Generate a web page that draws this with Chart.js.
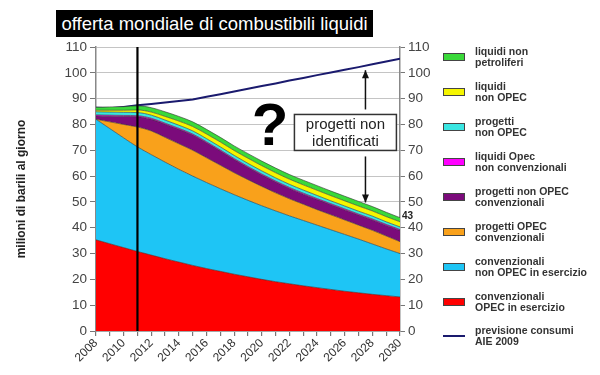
<!DOCTYPE html>
<html lang="it">
<head>
  <meta charset="UTF-8" />
  <title>offerta mondiale di combustibili liquidi</title>
  <script src="https://cdn.jsdelivr.net/npm/chart.js"></script>
  <style>
    * { margin: 0; padding: 0; box-sizing: border-box; }
    body { width: 600px; height: 375px; background: #fff; font-family: 'Liberation Sans', Arial, sans-serif; overflow: hidden; }
    .wrap { position: relative; width: 600px; height: 375px; }
    canvas { position: absolute; left: 0; top: 0; }
    .title {
      position: absolute; left: 56px; top: 10px; width: 317px; height: 27px;
      background: #000; color: #fff; font-size: 18.5px; line-height: 27px; text-align: center;
    }
    .legend { position: absolute; left: 443px; top: 0; }
    .item { position: absolute; left: 0; width: 160px; height: 22px; }
    .sw { position: absolute; left: 0; top: 7px; width: 22px; height: 8px; border: 1px solid #444; }
    .ln { position: absolute; left: 0; top: 10px; width: 22px; height: 2px; background: #1a1a6e; }
    .txt { position: absolute; left: 32px; top: 0; font-size: 10.5px; line-height: 10.5px; font-weight: bold; color: #333; white-space: nowrap; }
  </style>
</head>
<body>
<div class="wrap">
  <canvas id="chart" width="600" height="375"></canvas>
  <div class="title">offerta mondiale di combustibili liquidi</div>
  <div class="legend" id="legend"></div>
</div>

<script>
  const years = [2008, 2009, 2010, 2011, 2012, 2013, 2014, 2015, 2016, 2017, 2018, 2019,
                 2020, 2021, 2022, 2023, 2024, 2025, 2026, 2027, 2028, 2029, 2030];

  // milioni di barili al giorno, dal basso verso l'alto
  const opecEsercizio = [35.3, 33.8, 32.3, 30.8, 29.4, 28.0, 26.7, 25.4, 24.2, 23.1, 22.0, 21.0,
                         20.0, 19.1, 18.3, 17.5, 16.8, 16.1, 15.4, 14.8, 14.2, 13.7, 13.2];
  const nonOpecEsercizio = [46.7, 44.6, 42.5, 40.5, 38.9, 37.4, 35.9, 34.6, 33.3, 32.0, 30.8, 29.6,
                            28.5, 27.4, 26.3, 25.3, 24.2, 23.1, 22.0, 20.8, 19.5, 18.1, 16.8];
  const progettiOpec = [0, 2.6, 5.2, 7.7, 9.2, 9.6, 9.9, 10.0, 9.6, 9.1, 8.5, 8.0,
                        7.5, 7.0, 6.6, 6.3, 6.0, 5.8, 5.6, 5.4, 5.3, 5.0, 4.6];
  const progettiNonOpecConv = [1.3, 2.2, 3.1, 4.0, 4.5, 5.1, 5.6, 5.9, 5.8, 5.5, 5.1, 4.7,
                               4.4, 4.2, 4.0, 3.9, 3.9, 3.9, 3.9, 3.9, 4.0, 4.1, 4.3];
  const opecNonConv = [0.4, 0.4, 0.4, 0.4, 0.4, 0.4, 0.4, 0.4, 0.4, 0.4, 0.4, 0.4,
                       0.4, 0.4, 0.4, 0.4, 0.4, 0.4, 0.4, 0.4, 0.4, 0.4, 0.4];
  const progettiNonOpec = [1.2, 1.2, 1.2, 1.2, 1.2, 1.2, 1.2, 1.2, 1.2, 1.2, 1.2, 1.2,
                           1.2, 1.2, 1.2, 1.2, 1.2, 1.1, 1.1, 1.1, 1.1, 1.0, 1.0];
  const liquidiNonOpec = [0.6, 0.7, 0.8, 1.0, 1.2, 1.4, 1.6, 1.7, 1.8, 1.9, 1.9, 2.0,
                          2.0, 2.0, 2.0, 2.0, 2.0, 2.0, 2.0, 2.0, 2.0, 2.0, 2.0];
  const nonPetroliferi = [1.2, 1.3, 1.4, 1.6, 1.7, 1.8, 1.8, 1.8, 1.8, 1.8, 1.8, 1.8,
                          1.8, 1.8, 1.8, 1.8, 1.8, 1.8, 1.8, 1.8, 1.7, 1.7, 1.6];
  const consumiAIE = [86.5, 86.3, 86.8, 87.4, 87.9, 88.5, 89.1, 89.7, 90.7, 91.7, 92.8, 93.8,
                      94.9, 95.9, 97.0, 98.0, 99.1, 100.1, 101.2, 102.2, 103.3, 104.4, 105.5];

  const yTicks = [0, 10, 20, 30, 40, 50, 60, 70, 80, 90, 100, 110];
  const xLabels = [2008, 2010, 2012, 2014, 2016, 2018, 2020, 2022, 2024, 2026, 2028, 2030];
  const oggi = 2011;
  const totale2030 = '43';

  const series = [
    { label: 'convenzionali\nOPEC in esercizio', data: opecEsercizio, color: '#ff0000' },
    { label: 'convenzionali\nnon OPEC in esercizio', data: nonOpecEsercizio, color: '#1ec5f5' },
    { label: 'progetti OPEC\nconvenzionali', data: progettiOpec, color: '#f9a11b' },
    { label: 'progetti non OPEC\nconvenzionali', data: progettiNonOpecConv, color: '#7b0b7b' },
    { label: 'liquidi Opec\nnon convenzionali', data: opecNonConv, color: '#ff00ff' },
    { label: 'progetti\nnon OPEC', data: progettiNonOpec, color: '#3ae6e2' },
    { label: 'liquidi\nnon OPEC', data: liquidiNonOpec, color: '#f5f500' },
    { label: 'liquidi non\npetroliferi', data: nonPetroliferi, color: '#3ad93a' }
  ];

  const toXY = arr => arr.map((v, i) => ({ x: years[i], y: v }));

  const datasets = series.map((s, i) => ({
    label: s.label,
    data: toXY(s.data),
    backgroundColor: s.color,
    borderColor: 'rgba(50,50,50,0.75)',
    borderWidth: 0.8,
    pointRadius: 0,
    fill: i === 0 ? 'origin' : '-1',
    stack: 'offerta',
    cubicInterpolationMode: 'monotone'
  }));
  datasets.push({
    label: 'previsione consumi\nAIE 2009',
    data: toXY(consumiAIE),
    borderColor: '#1a1a6e',
    borderWidth: 2,
    pointRadius: 0,
    fill: false,
    stack: 'consumi',
    tension: 0
  });

  // legenda (in alto il livello più alto)
  const legendPos = [57, 92, 127, 162, 197, 232, 267, 302, 336];
  const legendEl = document.getElementById('legend');
  const legendItems = series.slice().reverse().map(s => ({ label: s.label, color: s.color }));
  legendItems.push({ label: 'previsione consumi\nAIE 2009', color: null });
  legendItems.forEach((it, i) => {
    const d = document.createElement('div');
    d.className = 'item';
    d.style.top = (legendPos[i] - 11) + 'px';
    d.innerHTML = (it.color ? '<div class="sw" style="background:' + it.color + '"></div>' : '<div class="ln"></div>') +
      '<div class="txt">' + it.label.replace('\n', '<br>') + '</div>';
    legendEl.appendChild(d);
  });

  const annotations = {
    id: 'annotations',
    afterDatasetsDraw(chart) {
      const { ctx, chartArea, scales: { x, y } } = chart;
      ctx.save();
      // linea verticale "oggi"
      const xo = x.getPixelForValue(oggi);
      ctx.strokeStyle = '#000';
      ctx.lineWidth = 2.2;
      ctx.beginPath();
      ctx.moveTo(xo, chartArea.top);
      ctx.lineTo(xo, chartArea.bottom);
      ctx.stroke();

      // punto interrogativo
      ctx.fillStyle = '#000';
      ctx.font = 'bold 60px "Liberation Sans", Arial, sans-serif';
      ctx.textAlign = 'center';
      ctx.textBaseline = 'middle';
      ctx.fillText('?', x.getPixelForValue(2020.6), y.getPixelForValue(78.5));

      // riquadro
      const bx = x.getPixelForValue(2026.05), by = y.getPixelForValue(76.9);
      const bw = 102, bh = 36;
      ctx.fillStyle = '#fff';
      ctx.fillRect(bx - bw / 2, by - bh / 2, bw, bh);
      ctx.strokeStyle = '#333';
      ctx.lineWidth = 1.5;
      ctx.strokeRect(bx - bw / 2, by - bh / 2, bw, bh);
      ctx.fillStyle = '#222';
      ctx.font = '15px "Liberation Sans", Arial, sans-serif';
      ctx.fillText('progetti non', bx, by - 8);
      ctx.fillText('identificati', bx, by + 9);

      // frecce
      const ax = x.getPixelForValue(2027.5);
      const arrow = (y0, y1) => {
        ctx.strokeStyle = '#111';
        ctx.fillStyle = '#111';
        ctx.lineWidth = 1.5;
        ctx.beginPath();
        ctx.moveTo(ax, y0);
        ctx.lineTo(ax, y1);
        ctx.stroke();
        const dir = y1 > y0 ? 1 : -1;
        ctx.beginPath();
        ctx.moveTo(ax, y1);
        ctx.lineTo(ax - 3.5, y1 - dir * 8);
        ctx.lineTo(ax + 3.5, y1 - dir * 8);
        ctx.closePath();
        ctx.fill();
      };
      arrow(by - bh / 2 - 5, y.getPixelForValue(101));
      arrow(by + bh / 2 + 6, y.getPixelForValue(49.8));

      // valore finale
      ctx.fillStyle = '#222';
      ctx.font = 'bold 10px "Liberation Sans", Arial, sans-serif';
      ctx.textAlign = 'left';
      ctx.fillText(totale2030, chartArea.right + 2, y.getPixelForValue(44.5));
      ctx.restore();
    }
  };

  const tickFont = { family: '"Liberation Sans", Arial, sans-serif', size: 13.5 };

  new Chart(document.getElementById('chart'), {
    type: 'line',
    data: { datasets },
    options: {
      responsive: false,
      animation: false,
      layout: { padding: { top: 47, right: 158, left: 14, bottom: 0 } },
      plugins: { legend: { display: false }, tooltip: { enabled: false } },
      scales: {
        x: {
          type: 'linear',
          min: 2008,
          max: 2030,
          afterFit(s) { s.height = 44; },
          afterBuildTicks(s) { s.ticks = years.map(v => ({ value: v })); },
          ticks: {
            autoSkip: false,
            maxRotation: 45,
            minRotation: 45,
            padding: 0,
            color: '#333',
            font: { family: '"Liberation Sans", Arial, sans-serif', size: 12 },
            callback: v => xLabels.includes(v) ? String(v) : ''
          },
          grid: { drawOnChartArea: false, drawTicks: true, tickLength: 5, color: '#777', lineWidth: 1.2 },
          border: { color: '#888', width: 1.5 }
        },
        y: {
          stacked: true,
          min: 0,
          max: 110,
          afterFit(s) { s.width = 82; },
          afterBuildTicks(s) { s.ticks = yTicks.map(v => ({ value: v })); },
          ticks: { color: '#444', font: tickFont, padding: 3 },
          grid: { color: '#c4c4c4', lineWidth: 1, tickLength: 6, tickColor: '#777' },
          border: { color: '#888', width: 1.5 },
          title: {
            display: true,
            text: 'milioni di barili al giorno',
            color: '#222',
            font: { family: '"Liberation Sans", Arial, sans-serif', size: 12, weight: 'bold' },
            padding: { top: 0, bottom: 2 }
          }
        },
        y2: {
          position: 'right',
          min: 0,
          max: 110,
          afterFit(s) { s.width = 42; },
          afterBuildTicks(s) { s.ticks = yTicks.map(v => ({ value: v })); },
          ticks: { color: '#444', font: tickFont, padding: 3 },
          grid: { drawOnChartArea: false, tickLength: 5, color: '#777' },
          border: { color: '#888', width: 1.5 }
        }
      }
    },
    plugins: [annotations]
  });
</script>
</body>
</html>
